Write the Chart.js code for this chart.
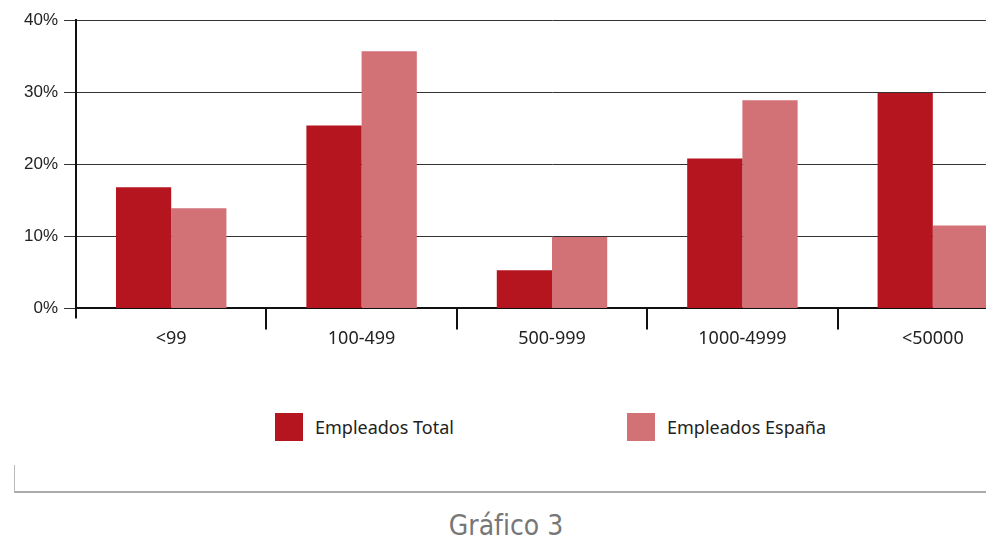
<!DOCTYPE html>
<html lang="es">
<head>
    <meta charset="UTF-8">
    <title>Gráfico 3</title>
    <script src="https://cdn.jsdelivr.net/npm/chart.js@4.4.1/dist/chart.umd.min.js"></script>
    <style>
        html, body { margin: 0; padding: 0; background: #fff; width: 986px; height: 542px; overflow: hidden; }
        .wrap { position: relative; width: 986px; height: 542px; overflow: hidden; }
        .chart-box { position: absolute; left: 0; top: 4px; width: 1030px; height: 345px; }
        .legend { position: absolute; top: 413px; left: 0; width: 986px; height: 30px; font-family: 'Noto Sans', 'DejaVu Sans', sans-serif; font-size: 18px; color: #222; }
        .legend-item { position: absolute; top: 0; display: flex; align-items: center; height: 28px; }
        .legend-item span.box { display: inline-block; width: 28px; height: 28px; margin-right: 12px; }
        .frame { position: absolute; left: 14px; top: 465px; width: 980px; height: 26px; border-left: 1px solid #bbb; border-bottom: 2px solid #aaa; }
        .caption { position: absolute; left: 0; top: 509px; width: 1012px; text-align: center; font-family: 'Liberation Sans Narrow', 'DejaVu Sans Condensed', sans-serif; font-size: 28px; color: #777; }
    </style>
</head>
<body>
<div class="wrap">
    <div class="chart-box"><canvas id="chart" width="1030" height="345"></canvas></div>
    <div class="legend" id="legend"></div>
    <div class="frame"></div>
    <div class="caption">Gráfico 3</div>
</div>
<script>
    // datos
    const categorias = ['<99', '100-499', '500-999', '1000-4999', '<50000'];
    const empleadosTotal = [16.8, 25.4, 5.3, 20.8, 29.9];
    const empleadosEspana = [13.9, 35.7, 9.9, 28.9, 11.5];
    const series = ['Empleados Total', 'Empleados España'];
    const colores = ['#b5151f', '#d27176'];
    const yTicks = [0, 10, 20, 30, 40];

    // el eje Y se prolonga un poco por debajo del eje X
    const ejeY = {
        id: 'ejeY',
        afterDraw(chart) {
            const { ctx, chartArea } = chart;
            ctx.save();
            ctx.strokeStyle = '#111';
            ctx.lineWidth = 2;
            ctx.beginPath();
            ctx.moveTo(chartArea.left, chartArea.bottom);
            ctx.lineTo(chartArea.left, chartArea.bottom + 10);
            ctx.stroke();
            ctx.restore();
        }
    };

    new Chart(document.getElementById('chart').getContext('2d'), {
        type: 'bar',
        data: {
            labels: categorias,
            datasets: [
                { label: series[0], data: empleadosTotal, backgroundColor: colores[0], categoryPercentage: 0.58, barPercentage: 1.0 },
                { label: series[1], data: empleadosEspana, backgroundColor: colores[1], categoryPercentage: 0.58, barPercentage: 1.0 }
            ]
        },
        options: {
            responsive: false,
            animation: false,
            layout: { padding: { top: 12, right: 2, left: 0, bottom: 0 } },
            plugins: { legend: { display: false }, tooltip: { enabled: false } },
            scales: {
                x: {
                    grid: {
                        offset: true,
                        drawOnChartArea: false,
                        drawTicks: true,
                        tickLength: 21,
                        lineWidth: 2,
                        color: ctx => ctx.index === 0 ? 'rgba(0,0,0,0)' : '#111'
                    },
                    border: { display: true, color: '#111', width: 2 },
                    ticks: { color: '#222', padding: -1, font: { family: 'Noto Sans', size: 18 } }
                },
                y: {
                    min: 0,
                    max: 40,
                    afterFit: s => { s.width = 76; },
                    afterBuildTicks: s => { s.ticks = yTicks.map(v => ({ value: v })); },
                    grid: { color: '#333', lineWidth: 1, drawTicks: true, tickLength: 12 },
                    border: { display: true, color: '#111', width: 2 },
                    ticks: { color: '#222', padding: 6, font: { family: 'Liberation Sans', size: 17 }, callback: v => v + '%' }
                }
            }
        },
        plugins: [ejeY]
    });

    // leyenda
    const legendPos = [275, 627];
    const legend = document.getElementById('legend');
    series.forEach((name, i) => {
        legend.innerHTML += `<div class="legend-item" style="left:${legendPos[i]}px"><span class="box" style="background:${colores[i]}"></span>${name}</div>`;
    });
</script>
</body>
</html>
